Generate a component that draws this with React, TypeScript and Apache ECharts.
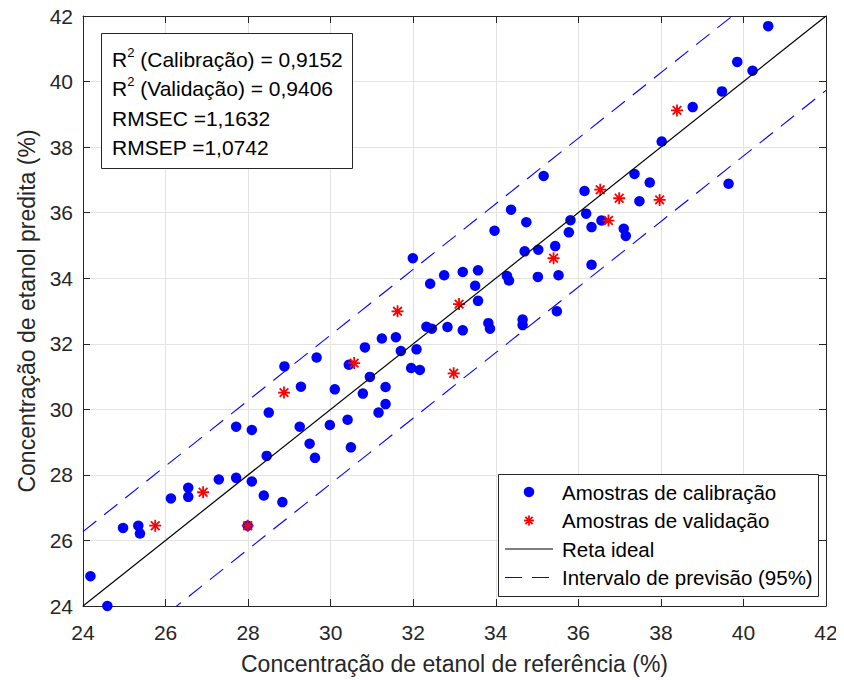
import React, { useEffect, useRef } from "react";
import * as echarts from "echarts";

const xTicks = [24, 42, 2];
const yTicks = [24, 42, 2];

const calibX = [24.59, 24.18, 24.97, 25.34, 25.38, 27.99, 26.13, 26.55, 26.55, 27.29, 27.71, 28.09, 28.38, 28.83, 28.45, 29.49, 29.62, 27.71, 28.09, 29.25, 29.98, 28.5, 29.28, 30.1, 30.78, 31.33, 31.33, 31.16, 30.41, 30.49, 28.88, 29.66, 30.44, 30.95, 30.83, 31.24, 31.58, 31.7, 32.08, 31.95, 32.16, 31.99, 32.41, 32.75, 33.2, 33.57, 33.5, 33.57, 32.32, 32.45, 32.83, 33.2, 33.82, 33.86, 33.97, 34.37, 34.74, 35.16, 34.7, 35.03, 35.44, 34.27, 34.32, 35.02, 35.52, 36.32, 34.65, 34.65, 35.48, 35.81, 36.19, 35.77, 36.32, 36.56, 37.1, 37.15, 36.15, 37.48, 37.36, 37.73, 38.02, 38.77, 39.48, 39.85, 40.22, 40.6, 39.64];
const calibY = [24.0, 24.91, 26.38, 26.45, 26.21, 26.45, 27.28, 27.61, 27.33, 27.86, 27.91, 27.8, 27.37, 27.17, 28.58, 28.95, 28.52, 29.47, 29.37, 29.47, 29.52, 29.9, 30.69, 30.61, 30.48, 30.68, 30.16, 29.9, 29.68, 28.84, 31.31, 31.58, 31.36, 30.99, 31.89, 32.16, 32.2, 31.78, 31.83, 31.26, 31.2, 34.61, 33.83, 34.09, 34.19, 34.24, 33.77, 33.31, 32.52, 32.46, 32.51, 32.41, 32.63, 32.46, 35.45, 36.09, 35.71, 37.12, 34.82, 34.87, 34.98, 34.07, 33.93, 34.04, 34.09, 34.41, 32.74, 32.57, 32.99, 35.77, 35.97, 35.4, 35.56, 35.76, 35.51, 35.29, 36.66, 36.35, 37.18, 36.92, 38.17, 39.22, 39.7, 40.6, 40.33, 41.69, 36.88];

const validX = [25.75, 27.99, 26.91, 28.87, 30.57, 31.62, 32.98, 33.11, 35.4, 36.53, 36.99, 37.97, 36.73, 38.39];
const validY = [26.45, 26.45, 27.47, 30.51, 31.41, 32.99, 31.1, 33.21, 34.61, 36.7, 36.44, 36.39, 35.76, 39.12];

const idealLine = [[24, 24], [42, 42]];
const upperLine = [[24, 26.27], [42, 44.27]];
const lowerLine = [[24, 21.73], [42, 39.73]];

const statsLines = [
  "{t|R}{s|2}{t| (Calibração) = 0,9152}",
  "{t|R}{s|2}{t| (Validação) = 0,9406}",
  "{t|RMSEC =1,1632}",
  "{t|RMSEP =1,0742}",
];
const legendLabels = [
  "Amostras de calibração",
  "Amostras de validação",
  "Reta ideal",
  "Intervalo de previsão (95%)",
];

const xName = "Concentração de etanol de referência (%)";
const yName = "Concentração de etanol predita (%)";

const FONT = "Liberation Sans, Arial, sans-serif";
const AX = "#262626";
const STAR = "path://M0 -5L0 5M-5 0L5 0M-3.6 -3.6L3.6 3.6M-3.6 3.6L3.6 -3.6";

export default function App() {
  const ref = useRef<HTMLDivElement>(null);
  useEffect(() => {
    if (!ref.current) return;
    const chart = echarts.init(ref.current, undefined, { renderer: "svg" });
    const calib = calibX.map((x, i) => [x, calibY[i]]);
    const valid = validX.map((x, i) => [x, validY[i]]);
    const baseAxis = (min: number, max: number, interval: number) => ({
      type: "value",
      min,
      max,
      interval,
      axisLine: { show: true, lineStyle: { color: AX, width: 1 } },
      axisTick: { show: true, inside: true, length: 7, lineStyle: { color: AX } },
      splitLine: { show: false },
      axisLabel: { show: false },
    });
    const legX = 498, legY = 474;
    const rowY = [492, 520.5, 549, 577.5];
    const textX = 562;
    const statsY = [57.5, 86.5, 116.5, 146];
    chart.setOption({
      animation: false,
      grid: { left: 83, top: 16, right: 18, bottom: 74, containLabel: false },
      xAxis: [
        {
          ...baseAxis(xTicks[0], xTicks[1], xTicks[2]),
          position: "bottom",
          splitLine: { show: true, lineStyle: { color: "#e3e3e3", width: 1 } },
          axisLabel: { show: true, fontSize: 21, color: AX, fontFamily: FONT, margin: 16 },
          name: xName,
          nameLocation: "middle",
          nameGap: 46,
          nameTextStyle: { fontSize: 23, color: AX, fontFamily: FONT },
        },
        { ...baseAxis(xTicks[0], xTicks[1], xTicks[2]), position: "top" },
      ],
      yAxis: [
        {
          ...baseAxis(yTicks[0], yTicks[1], yTicks[2]),
          position: "left",
          splitLine: { show: true, lineStyle: { color: "#e3e3e3", width: 1 } },
          axisLabel: { show: true, fontSize: 21, color: AX, fontFamily: FONT, margin: 10 },
          name: yName,
          nameLocation: "middle",
          nameGap: 45,
          nameTextStyle: { fontSize: 23, color: AX, fontFamily: FONT },
        },
        { ...baseAxis(yTicks[0], yTicks[1], yTicks[2]), position: "right" },
      ],
      series: [
        {
          name: legendLabels[0],
          type: "scatter",
          data: calib,
          symbol: "circle",
          symbolSize: 10.5,
          itemStyle: { color: "#0000ff", opacity: 1 },
          clip: false,
          z: 3,
        },
        {
          name: legendLabels[1],
          type: "scatter",
          data: valid,
          symbol: STAR,
          symbolSize: 12,
          itemStyle: { color: "#ff0000", borderColor: "#ff0000", borderWidth: 1.8, opacity: 1 },
          clip: false,
          z: 4,
        },
        {
          name: legendLabels[2],
          type: "line",
          data: idealLine,
          symbol: "none",
          lineStyle: { color: "#000000", width: 1.2 },
          clip: true,
          z: 5,
        },
        {
          name: legendLabels[3],
          type: "line",
          data: upperLine,
          symbol: "none",
          lineStyle: { color: "#0000ff", width: 1.1, type: [17, 10] },
          clip: true,
          z: 5,
        },
        {
          name: legendLabels[3] + " ",
          type: "line",
          data: lowerLine,
          symbol: "none",
          lineStyle: { color: "#0000ff", width: 1.1, type: [17, 10] },
          clip: true,
          z: 5,
        },
      ],
      graphic: [
        {
          type: "group",
          z: 100,
          children: [
            {
              type: "rect",
              shape: { x: 101.5, y: 33.5, width: 251, height: 135 },
              style: { fill: "#ffffff", stroke: AX, lineWidth: 1 },
              z: 100,
            },
            ...statsLines.map((t, i) => ({
              type: "text",
              x: 112,
              y: statsY[i],
              z: 101,
              style: {
                text: t,
                fill: "#000000",
                verticalAlign: "middle",
                rich: {
                  t: { fontSize: 21, fontFamily: FONT, fill: "#000000", verticalAlign: "bottom", lineHeight: 24 },
                  s: { fontSize: 13, fontFamily: FONT, fill: "#000000", verticalAlign: "top", lineHeight: 24 },
                },
              },
            })),
            {
              type: "rect",
              shape: { x: legX + 0.5, y: legY + 0.5, width: 320, height: 122 },
              style: { fill: "#ffffff", stroke: AX, lineWidth: 1 },
              z: 100,
            },
            {
              type: "circle",
              shape: { cx: 529, cy: rowY[0], r: 5.25 },
              style: { fill: "#0000ff" },
              z: 101,
            },
            ...[[0, -5, 0, 5], [-5, 0, 5, 0], [-3.6, -3.6, 3.6, 3.6], [-3.6, 3.6, 3.6, -3.6]].map((s) => ({
              type: "line",
              shape: { x1: 529 + s[0], y1: rowY[1] + s[1], x2: 529 + s[2], y2: rowY[1] + s[3] },
              style: { stroke: "#ff0000", lineWidth: 1.8 },
              z: 101,
            })),
            {
              type: "line",
              shape: { x1: 505, y1: rowY[2], x2: 553, y2: rowY[2] },
              style: { stroke: "#000000", lineWidth: 1.2 },
              z: 101,
            },
            {
              type: "line",
              shape: { x1: 505, y1: rowY[3], x2: 553, y2: rowY[3] },
              style: { stroke: "#0000ff", lineWidth: 1.1, lineDash: [17, 10] },
              z: 101,
            },
            ...legendLabels.map((t, i) => ({
              type: "text",
              x: textX,
              y: rowY[i],
              z: 101,
              style: {
                text: t,
                fontSize: 20.5,
                fontFamily: FONT,
                fill: "#000000",
                verticalAlign: "middle",
              },
            })),
          ],
        },
      ],
    });
    return () => chart.dispose();
  }, []);
  return <div ref={ref} style={{ width: 844, height: 680, marginLeft: -8, marginTop: -8 }} />;
}
